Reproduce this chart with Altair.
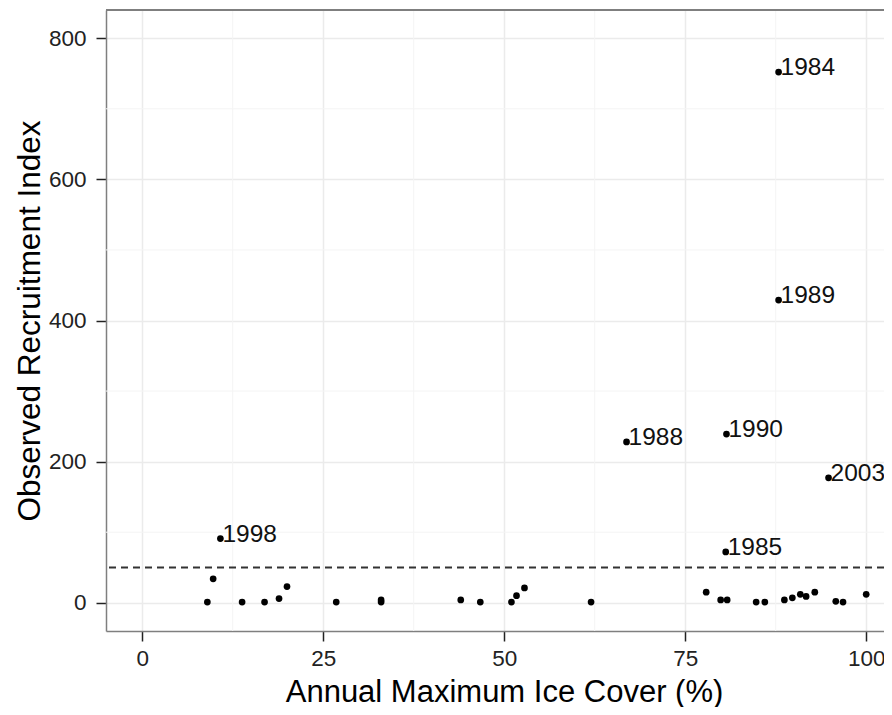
import altair as alt
import pandas as pd

# Unlabelled years (ice cover %, recruitment index)
ice_cover = [9.0, 9.8, 13.8, 16.9, 18.9, 20.0, 26.8, 33.0, 33.0, 44.0, 46.7,
             51.0, 51.7, 52.8, 62.0, 77.9, 79.9, 80.8, 84.8, 86.0, 88.7,
             89.8, 90.9, 91.7, 92.9, 95.8, 96.8, 100.0]
recruit = [1, 34, 1, 1, 6, 23, 1, 1, 4, 4, 1,
           1, 10, 21, 1, 15, 4, 4, 1, 1, 4,
           7, 12, 9, 15, 2, 1, 12]

# Labelled years
lab_years = ["1984", "1985", "1988", "1989", "1990", "1998", "2003"]
lab_ice = [87.9, 80.6, 66.9, 87.9, 80.7, 10.8, 94.8]
lab_recruit = [752, 72, 228, 429, 239, 91, 177]

threshold = [50]
x_ticks = [0, 25, 50, 75, 100]
y_ticks = [0, 200, 400, 600, 800]
x_minor = [12.5, 37.5, 62.5, 87.5]
y_minor = [100, 300, 500, 700]

pts = pd.DataFrame({"ice": ice_cover, "rec": recruit})
lab = pd.DataFrame({"ice": lab_ice, "rec": lab_recruit, "year": lab_years})
thr = pd.DataFrame({"rec": threshold})
xm = pd.DataFrame({"ice": x_minor})
ym = pd.DataFrame({"rec": y_minor})

W, H = 778, 621
FONT = "Liberation Sans"
xs = alt.Scale(domain=[-5, 102.46], nice=False, zero=False)
ys = alt.Scale(domain=[-40, 840], nice=False, zero=False)

x_axis = alt.Axis(values=x_ticks, title="Annual Maximum Ice Cover (%)",
                  grid=True, gridColor="#ebebeb", gridWidth=1.5,
                  domainColor="#7f7f7f", domainWidth=1.5,
                  tickColor="#222222", tickWidth=1.5, tickSize=10,
                  labelFont=FONT, labelFontSize=22.5, labelColor="#222222",
                  labelPadding=6, labelFlush=False,
                  titleFont=FONT, titleFontSize=31, titleFontWeight="normal",
                  titleColor="#000000", titleX=398, titleY=70,
                  titleBaseline="alphabetic", titleAlign="center")
y_axis = alt.Axis(values=y_ticks, title="Observed Recruitment Index",
                  grid=True, gridColor="#ebebeb", gridWidth=1.5,
                  domainColor="#7f7f7f", domainWidth=1.5,
                  tickColor="#222222", tickWidth=1.5, tickSize=10,
                  labelFont=FONT, labelFontSize=22.5, labelColor="#222222",
                  labelPadding=10, labelFlush=False,
                  titleFont=FONT, titleFontSize=31.5, titleFontWeight="normal",
                  titleColor="#000000", titleX=-67, titleY=310.5,
                  titleAngle=270, titleBaseline="alphabetic", titleAlign="center")

X = alt.X("ice:Q", scale=xs, axis=x_axis)
Y = alt.Y("rec:Q", scale=ys, axis=y_axis)

minor_x = alt.Chart(xm).mark_rule(color="#f4f4f4", strokeWidth=1).encode(x=X)
minor_y = alt.Chart(ym).mark_rule(color="#f4f4f4", strokeWidth=1).encode(y=Y)

dash = alt.Chart(thr).mark_rule(color="#333333", strokeWidth=1.8,
                                strokeDash=[7, 5]).encode(y=Y)

points = alt.Chart(pts).mark_circle(size=45, color="black", opacity=1).encode(x=X, y=Y)

lab_pts = alt.Chart(lab).mark_circle(size=45, color="black", opacity=1).encode(x=X, y=Y)

lab_txt = alt.Chart(lab).mark_text(align="left", baseline="alphabetic", dx=2, dy=3,
                                   font=FONT, fontSize=24.5, color="#111111").encode(
    x=X, y=Y, text="year:N")

top_border = alt.Chart(pts).mark_rule(color="#7f7f7f", strokeWidth=1.5).encode(
    y=alt.value(0), x=alt.value(0), x2=alt.value(W))

chart = alt.layer(minor_x, minor_y, dash, points, lab_pts, lab_txt, top_border).properties(
    width=W, height=H,
    autosize=alt.AutoSizeParams(type="none"),
    padding={"left": 98, "top": 2, "right": 0, "bottom": 76},
    background="white",
).configure_view(stroke=None)

chart.save("out.html", embed_options={"renderer": "svg", "actions": False})
